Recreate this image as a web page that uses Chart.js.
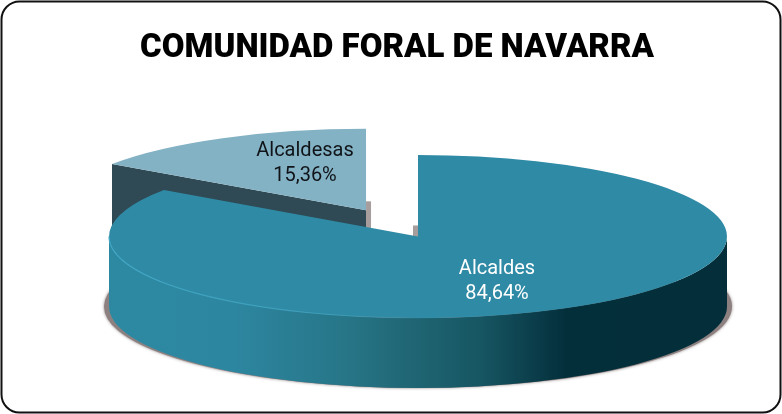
<!DOCTYPE html>
<html>
<head>
<meta charset="utf-8">
<script src="https://cdn.jsdelivr.net/npm/chart.js@4"></script>
<style>
html,body{margin:0;padding:0;background:#fff}
#w{position:relative;width:782px;height:414px}
canvas{display:block}
</style>
</head>
<body>
<div id="w"><canvas id="c" width="782" height="414"></canvas></div>
<script>
const titleText = 'COMUNIDAD FORAL DE NAVARRA';
const categories = ['Alcaldes', 'Alcaldesas'];
const shares = [84.64, 15.36];
const explode = [0, 112];
const sliceColors = ['#2f8aa5', '#84b2c5'];
const labelColors = ['#ffffff', '#101418'];

const X0 = 418, Y0 = 236.5, R = 309, K = 81.5 / 309, DEPTH = 70;
const labelPos = [[497, 269], [305, 151]];
const LINE = 25;

function fmt(v){ return v.toFixed(2).replace('.', ',') + '%'; }

// Pie whose slices are pulled out by a plain translation, without the radius change of `offset`
class ExplodedPie extends Chart.PieController {
  draw(){
    const c = this.chart.ctx;
    this._cachedMeta.data.forEach((arc, i) => {
      const h = (arc.startAngle + arc.endAngle) / 2;
      c.save();
      c.translate(Math.cos(h) * explode[i], Math.sin(h) * explode[i]);
      arc.draw(c);
      c.restore();
    });
  }
}
ExplodedPie.id = 'explodedPie';
ExplodedPie.defaults = Chart.PieController.defaults;
ExplodedPie.overrides = Chart.PieController.overrides;
Chart.register(ExplodedPie);

const pie3d = {
  id: 'pie3d',
  beforeDraw(chart){
    const c = chart.ctx;
    c.save();
    c.fillStyle = '#fff';
    c.fillRect(0, 0, chart.width, chart.height);
    c.beginPath();
    c.roundRect(1.5, 1.5, chart.width - 3, chart.height - 3, 18);
    c.lineWidth = 2;
    c.strokeStyle = '#111';
    c.stroke();
    c.restore();
  },
  beforeDatasetsDraw(chart){
    const c = chart.ctx;
    const [big, small] = chart.getDatasetMeta(0).data;
    const h = (small.startAngle + small.endAngle) / 2;
    const t = explode[1];
    const sx = X0 + Math.cos(h) * t, sy = Y0 + Math.sin(h) * t * K;
    const ex = sx + R * Math.cos(small.startAngle), ey = sy + R * Math.sin(small.startAngle) * K;

    c.save();
    // grey stubs of shadow behind the cut faces
    c.fillStyle = '#a89d9d';
    c.fillRect(sx, sy - 9, 5, 30);
    c.fillRect(X0 - 5, Y0 - 11, 5, 12);

    // cut face of the detached slice
    c.fillStyle = '#2f4a54';
    c.beginPath();
    c.moveTo(sx, sy);
    c.lineTo(ex, ey);
    c.lineTo(ex, ey + DEPTH);
    c.lineTo(sx, sy + DEPTH);
    c.closePath();
    c.fill();

    // soft shadow under the main body
    c.save();
    c.shadowColor = 'rgba(90,70,70,0.7)';
    c.shadowBlur = 3;
    c.fillStyle = '#8d8080';
    c.beginPath();
    c.ellipse(X0, Y0 + DEPTH, R + 5, R * K, 0, -0.3, Math.PI + 0.3);
    c.closePath();
    c.fill();
    c.restore();

    // curved side wall
    const g = c.createLinearGradient(X0 - R, 0, X0 + R, 0);
    [[0, '#2d89a2'], [0.2, '#2d86a0'], [0.38, '#277688'], [0.5, '#1f6472'],
     [0.6, '#175663'], [0.66, '#0f4552'], [0.74, '#032f3b'], [1, '#032e3a']]
      .forEach(s => g.addColorStop(s[0], s[1]));
    c.fillStyle = g;
    c.beginPath();
    c.ellipse(X0, Y0, R, R * K, 0, 0, Math.PI);
    c.lineTo(X0 - R, Y0 + DEPTH);
    c.ellipse(X0, Y0 + DEPTH, R, R * K, 0, Math.PI, 0, true);
    c.closePath();
    c.fill();
    c.restore();

    // flatten the pie into an ellipse for the library's own arcs
    c.save();
    c.translate(X0, Y0);
    c.scale(1, K);
    c.translate(-big.x, -big.y);
  },
  afterDatasetsDraw(chart){
    const c = chart.ctx;
    c.restore();
    c.save();
    // lit rim along the front of the top face
    const g = c.createLinearGradient(X0 - R, 0, X0 + R, 0);
    g.addColorStop(0, '#3fa6c4');
    g.addColorStop(0.36, '#3c9db9');
    g.addColorStop(0.5, 'rgba(60,157,185,0.2)');
    g.addColorStop(1, 'rgba(60,157,185,0)');
    c.strokeStyle = g;
    c.lineWidth = 1.2;
    c.beginPath();
    c.ellipse(X0, Y0, R, R * K, 0, 0, Math.PI);
    c.stroke();

    // slice labels
    c.font = '20px Roboto';
    c.textAlign = 'center';
    c.textBaseline = 'middle';
    categories.forEach((name, i) => {
      c.fillStyle = labelColors[i];
      c.fillText(name, labelPos[i][0], labelPos[i][1]);
      c.fillText(fmt(shares[i]), labelPos[i][0], labelPos[i][1] + LINE);
    });
    c.restore();
  }
};

new Chart(document.getElementById('c'), {
  type: 'explodedPie',
  data: {
    labels: categories,
    datasets: [{
      data: shares,
      backgroundColor: sliceColors,
      borderWidth: 0,
      clip: false,
      radius: R
    }]
  },
  options: {
    responsive: false,
    animation: false,
    events: [],
    layout: { padding: { left: 12 } },
    plugins: {
      legend: { display: false },
      tooltip: { enabled: false },
      title: {
        display: true,
        text: titleText,
        color: '#000',
        font: { family: 'Roboto', size: 33, weight: 900 },
        padding: { top: 29, bottom: 0 }
      }
    }
  },
  plugins: [pie3d]
});
</script>
</body>
</html>
